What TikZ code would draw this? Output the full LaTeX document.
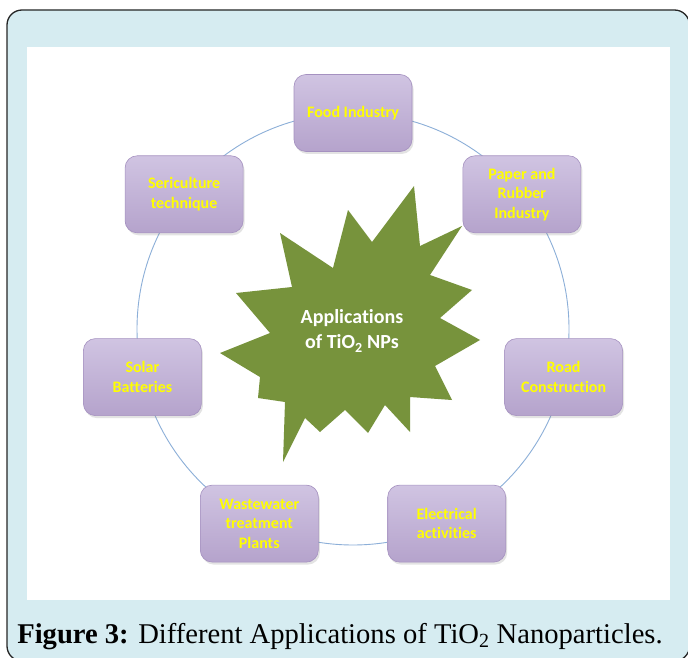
\documentclass[tikz,border=0pt]{standalone}
\usepackage{fontspec}
\newfontfamily\carlito[Ligatures={NoCommon,NoRare}]{Carlito}
\newfontfamily\capfont{Liberation Serif}
\usetikzlibrary{shadows,calc}
\definecolor{framebg}{HTML}{D6ECF1}
\definecolor{ringcol}{HTML}{8CAFD8}
\definecolor{stargreen}{HTML}{77933C}
\definecolor{boxtop}{HTML}{D0C4E2}
\definecolor{boxbot}{HTML}{B5A3CC}
\definecolor{boxline}{HTML}{A591C0}
\definecolor{txtyellow}{HTML}{FFFF00}
\tikzset{
  appbox/.style={rounded corners=12pt, minimum width=118pt, minimum height=77pt,
    top color=boxtop, bottom color=boxbot, draw=boxline, line width=0.6pt,
    drop shadow={opacity=0.22, shadow xshift=1.5pt, shadow yshift=-2.5pt},
    align=center, text=txtyellow, font=\carlito\bfseries\fontsize{16}{19.5}\selectfont,
    inner sep=2pt},
  ring/.style={draw=ringcol, line width=0.9pt}
}
\begin{document}
\begin{tikzpicture}[x=1pt,y=-1pt]
\useasboundingbox (0,0) rectangle (688,658);
\begin{scope}
\clip (0,0) rectangle (688,658);
\draw[fill=framebg, draw=black!85, line width=1.3pt, rounded corners=15pt] (7,10) rectangle (689.5,661);
\end{scope}
\fill[white] (27,47) rectangle (670,600);
\coordinate (ctr) at (353,329);
\draw[ring] (ctr) circle[radius=216pt];
% star
\fill[stargreen] (414,186) -- (372,242) -- (348,210) -- (333,268) -- (280,233) -- (292,287)
  -- (236,293) -- (270,333) -- (220,353) -- (260,377) -- (258,398) -- (285,402)
  -- (283,462) -- (305,418) -- (320,432) -- (345,410) -- (368,433) -- (385,405)
  -- (410,432) -- (410,397) -- (452,400) -- (435,366) -- (480,340) -- (440,318)
  -- (472,290) -- (430,275) -- (462,226) -- (420,246) -- cycle;
\node[text=white, align=center, font=\carlito\bfseries\fontsize{20}{25}\selectfont] (hub) at (352,331)
  {Applications\\of TiO\textsubscript{2} NPs};
% boxes
\node[appbox] (food) at (353,113) {Food Industry};
\node[appbox] (paper) at (521.9,194.3) {Paper and\\Rubber\\Industry};
\node[appbox] (road) at (563.6,377.1) {Road\\Construction};
\node[appbox] (elec) at (446.7,523.6) {Electrical\\activities};
\node[appbox] (waste) at (259.3,523.6) {Wastewater\\treatment\\Plants};
\node[appbox] (solar) at (142.4,377.1) {Solar\\Batteries};
\node[appbox] (seri) at (184.1,194.3) {Sericulture\\technique};
% caption
\node[anchor=base, inner sep=0pt, font=\capfont\fontsize{28.6}{34}\selectfont] (cap) at (340,643)
  {\textbf{Figure 3:} Different Applications of TiO\textsubscript{2} Nanoparticles.};
\end{tikzpicture}
\end{document}
